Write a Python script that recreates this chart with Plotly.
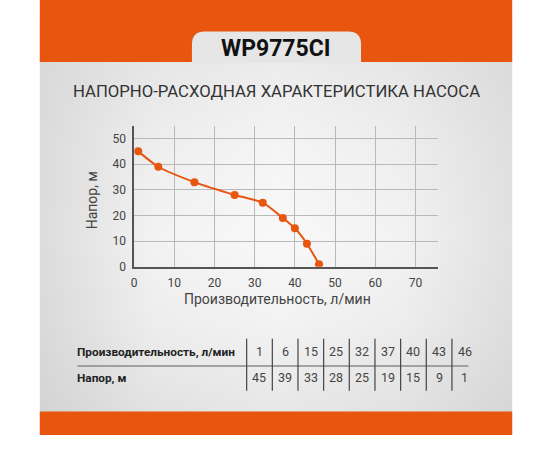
import plotly.graph_objects as go

# data
flow = [1, 6, 15, 25, 32, 37, 40, 43, 46]        # л/мин
head = [45, 39, 33, 28, 25, 19, 15, 9, 1]        # м
x_ticks = [0, 10, 20, 30, 40, 50, 60, 70]
y_ticks = [0, 10, 20, 30, 40, 50]

model = 'WP9775CI'
title = 'НАПОРНО-РАСХОДНАЯ ХАРАКТЕРИСТИКА НАСОСА'
x_title = 'Производительность, л/мин'
y_title = 'Напор, м'
row_names = ['Производительность, л/мин', 'Напор, м']

ORANGE = '#E8550F'
W, H = 550, 450

# soft light spot on the grey panel (brightness 0..1)
glow_x = [37, 150, 275, 400, 512]
glow_y = [63, 150, 240, 330, 418]
glow_z = [
    [0.45, 0.68, 0.78, 0.68, 0.48],
    [0.48, 0.82, 0.94, 0.82, 0.55],
    [0.50, 0.90, 1.00, 0.90, 0.58],
    [0.45, 0.80, 0.90, 0.80, 0.52],
    [0.35, 0.60, 0.70, 0.60, 0.40],
]

fig = go.Figure()

# background panel (pixel coordinates on x/y)
fig.add_trace(go.Heatmap(
    x=glow_x, y=glow_y, z=glow_z,
    zmin=0, zmax=1, zsmooth='best', showscale=False, hoverinfo='skip',
    colorscale=[[0, 'rgb(192,192,192)'], [1, 'rgb(248,248,248)']],
    xaxis='x', yaxis='y',
))

# the curve
fig.add_trace(go.Scatter(
    x=flow, y=head,
    mode='lines+markers',
    line=dict(color=ORANGE, width=2, shape='spline', smoothing=0.6),
    marker=dict(color=ORANGE, size=8),
    xaxis='x2', yaxis='y2',
    hoverinfo='skip',
))

shapes = []
# white margins, orange bands
shapes.append(dict(type='rect', x0=0, x1=37, y0=0, y1=H, fillcolor='white', line_width=0))
shapes.append(dict(type='rect', x0=512, x1=W, y0=0, y1=H, fillcolor='white', line_width=0))
shapes.append(dict(type='rect', x0=0, x1=W, y0=442, y1=H, fillcolor='white', line_width=0))
shapes.append(dict(type='rect', x0=37, x1=512, y0=0, y1=63, fillcolor=ORANGE, line_width=0))
shapes.append(dict(type='rect', x0=37, x1=512, y0=418, y1=442, fillcolor=ORANGE, line_width=0))
# tab behind the model name
shapes.append(dict(type='path',
                   path='M 190,64 L 190,45 Q 190,32 203,32 L 347,32 Q 360,32 360,45 L 360,64 Z',
                   fillcolor='#e6e6e6', line_width=0))

# table lines
col_left = 245
col_w = 25.8
shapes.append(dict(type='line', x0=75, x1=468, y0=371.7, y1=371.7,
                   line=dict(color='#8a8a8a', width=1.5)))
for i in range(len(flow)):
    xl = col_left + i * col_w
    shapes.append(dict(type='line', x0=xl, x1=xl, y0=344, y1=397,
                       line=dict(color='#444444', width=1.2)))

annotations = []
annotations.append(dict(x=274, y=49, text='<b>' + model + '</b>', showarrow=False,
                        xref='x', yref='y',
                        font=dict(family='Roboto', size=23, color='#111111')))
annotations.append(dict(x=275, y=93, text=title, showarrow=False,
                        xref='x', yref='y',
                        font=dict(family='Roboto', size=16.7, color='#333333')))
annotations.append(dict(x=276, y=304, text=x_title, showarrow=False,
                        xref='x', yref='y',
                        font=dict(family='Roboto', size=14, color='#444444')))
annotations.append(dict(x=89, y=204, text=y_title, showarrow=False, textangle=-90,
                        xref='x', yref='y',
                        font=dict(family='Roboto', size=14, color='#444444')))

row_y = [357.5, 383.5]
for r, name in enumerate(row_names):
    annotations.append(dict(x=72, y=row_y[r], text='<b>' + name + '</b>', showarrow=False,
                            xref='x', yref='y', xanchor='left',
                            font=dict(family='Roboto', size=11.8, color='#222222')))
for i, (q, h) in enumerate(zip(flow, head)):
    xc = col_left + (i + 0.5) * col_w
    for r, v in enumerate([q, h]):
        annotations.append(dict(x=xc, y=row_y[r], text=str(v), showarrow=False,
                                xref='x', yref='y',
                                font=dict(family='Roboto', size=12.5, color='#444444')))

# chart area in pixels
px_l, px_r, px_t, px_b = 131.9, 437.7, 127.7, 271.0

fig.update_layout(
    width=W, height=H,
    margin=dict(l=0, r=0, t=0, b=0),
    paper_bgcolor='white',
    plot_bgcolor='rgba(0,0,0,0)',
    showlegend=False,
    shapes=shapes,
    annotations=annotations,
    xaxis=dict(domain=[0, 1], range=[0, W], visible=False, fixedrange=True),
    yaxis=dict(domain=[0, 1], range=[H, 0], visible=False, fixedrange=True),
    xaxis2=dict(
        domain=[px_l / W, px_r / W], anchor='y2',
        range=[0, 75.7], tickvals=x_ticks,
        showgrid=True, gridcolor='#b9b9b9', gridwidth=1,
        showline=True, linecolor='#555555', linewidth=1.5,
        zeroline=False, ticks='', ticklabelstandoff=4,
        tickfont=dict(family='Roboto', size=12, color='#444444'),
    ),
    yaxis2=dict(
        domain=[1 - px_b / H, 1 - px_t / H], anchor='x2',
        range=[0, 55], tickvals=y_ticks,
        showgrid=True, gridcolor='#b9b9b9', gridwidth=1,
        showline=True, linecolor='#555555', linewidth=1.5,
        zeroline=False, ticks='', ticklabelstandoff=4,
        tickfont=dict(family='Roboto', size=12, color='#444444'),
    ),
)

# page body has an 8px default margin; drop it so the figure sits at 0,0
fig.write_html('out.html', config={'displayModeBar': False},
               post_script="document.body.style.margin='0';")
